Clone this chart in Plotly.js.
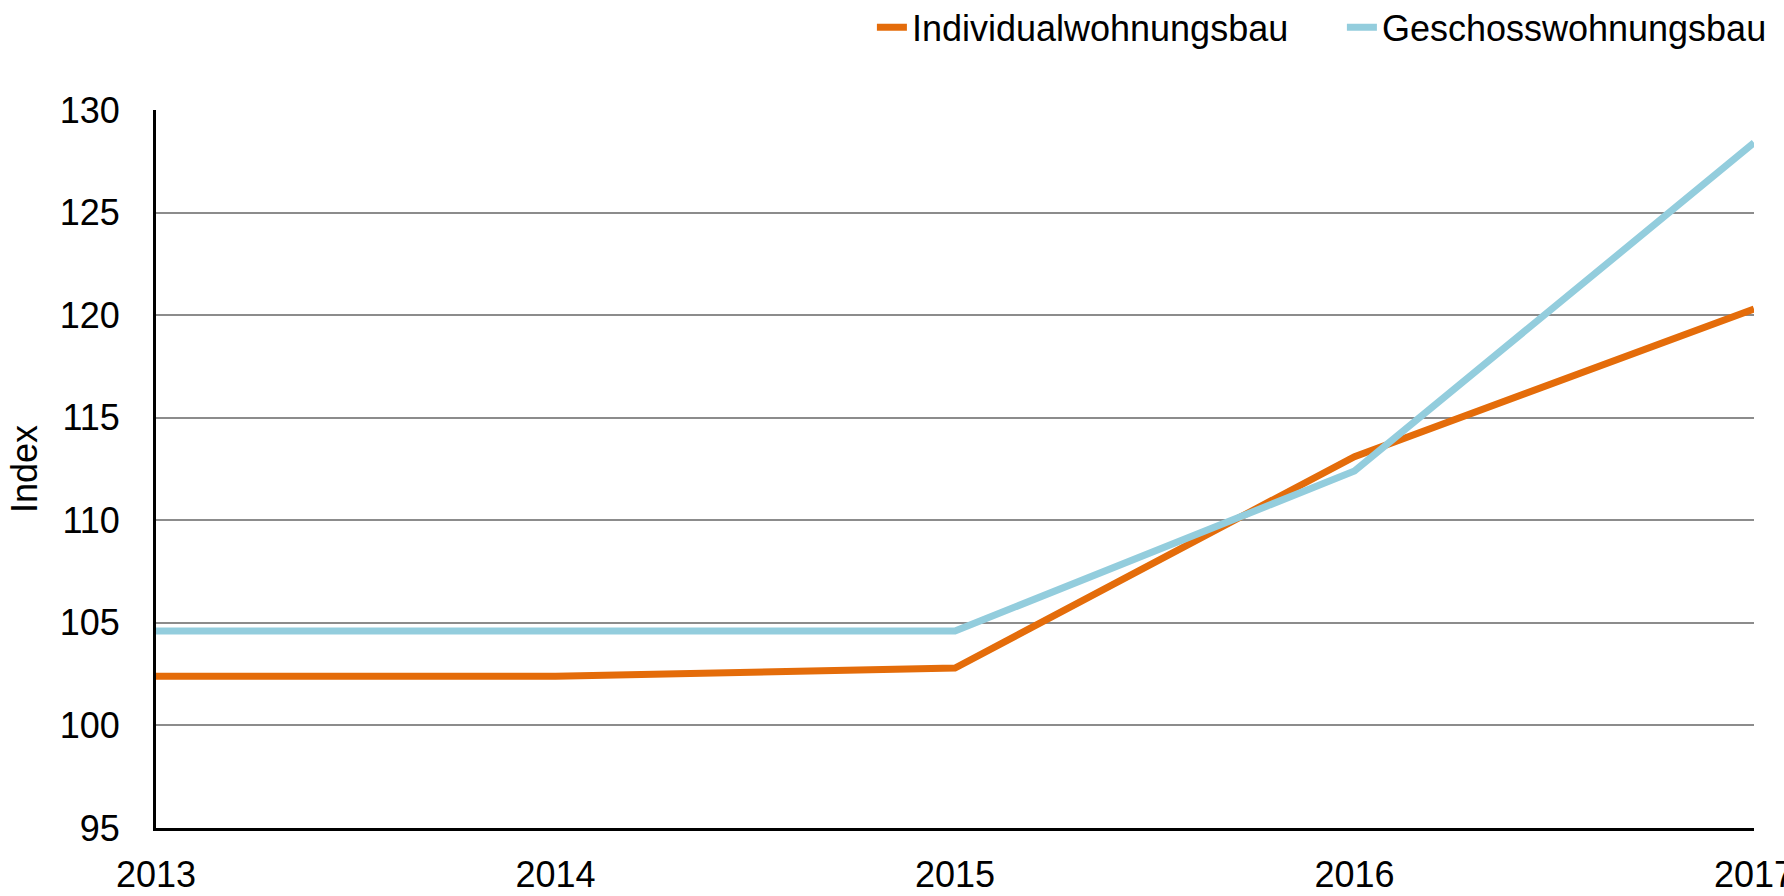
<!DOCTYPE html>
<html>
<head>
<meta charset="utf-8">
<script src="https://cdn.plot.ly/plotly-3.0.1.min.js"></script>
<style>html,body{margin:0;padding:0;background:#fff;}#chart{width:1784px;height:896px;}</style>
</head>
<body>
<div id="chart"></div>
<script>
const years = [2013, 2014, 2015, 2016, 2017];
const yearLabels = ["2013", "2014", "2015", "2016", "2017"];
const individual = [102.4, 102.4, 102.8, 113.1, 120.3];
const geschoss = [104.6, 104.6, 104.6, 112.4, 128.4];
const yTicks = [95, 100, 105, 110, 115, 120, 125, 130];

const FONT = '"Liberation Sans Narrow", "Arial Narrow", "Liberation Sans", Arial, sans-serif';
const FS = 36;

const traces = [
  {x: years, y: individual, name: "Individualwohnungsbau", type: "scatter", mode: "lines",
   line: {color: "#E46C0A", width: 7}},
  {x: years, y: geschoss, name: "Geschosswohnungsbau", type: "scatter", mode: "lines",
   line: {color: "#93CDDD", width: 7}}
];

const layout = {
  width: 1784, height: 896,
  margin: {l: 156, r: 30, t: 110, b: 68, pad: 0, autoexpand: false},
  paper_bgcolor: "#fff", plot_bgcolor: "#fff",
  font: {family: FONT, size: FS, color: "#000"},
  showlegend: true,
  legend: {orientation: "h", x: 0.448, xanchor: "left", y: 1.115, yanchor: "middle",
           font: {family: FONT, size: FS, color: "#000"}, bgcolor: "rgba(0,0,0,0)",
           itemwidth: 30, entrywidth: 425, entrywidthmode: "pixels", tracegroupgap: 0},
  xaxis: {type: "linear", range: [2013, 2017], tickvals: years, ticktext: yearLabels,
          showgrid: false, zeroline: false, showline: true, linecolor: "#000", linewidth: 3,
          ticks: "", ticklabelstandoff: 13, ticklabeloverflow: "allow",
          tickfont: {family: FONT, size: FS, color: "#000"}},
  yaxis: {range: [95, 130], tickvals: yTicks, showgrid: true, gridcolor: "#8c8c8c", gridwidth: 2,
          zeroline: false, showline: true, linecolor: "#000", linewidth: 3, ticks: "",
          ticklabelstandoff: 26, tickfont: {family: FONT, size: FS, color: "#000"},
          title: {text: "Index", standoff: 12, font: {family: FONT, size: FS, color: "#000"}}}
};

Plotly.newPlot("chart", traces, layout, {displayModeBar: false, staticPlot: true});
</script>
</body>
</html>
